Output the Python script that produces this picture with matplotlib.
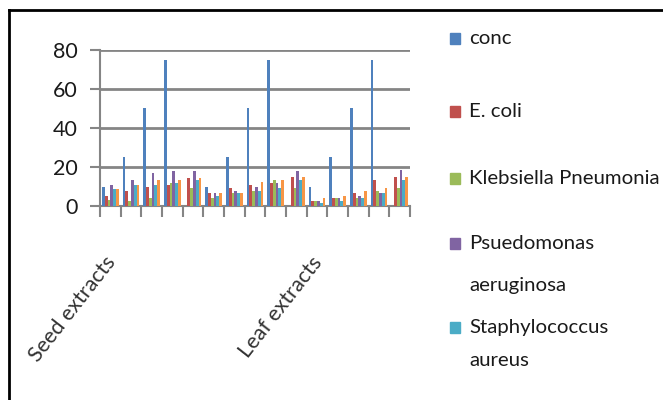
import numpy as np
import matplotlib
matplotlib.use('Agg')
import matplotlib.pyplot as plt
from matplotlib.patches import Rectangle
from matplotlib.lines import Line2D
import matplotlib.transforms as mtransforms

plt.rcParams['font.family'] = ['Lato', 'DejaVu Sans']

# zone of inhibition per extract / concentration
categories = ['Seed extracts', '', '', '', '', '', '', '', '', '',
              'Leaf extracts', '', '', '', '']
conc = [10, 25, 50, 75, 0, 10, 25, 50, 75, 0, 10, 25, 50, 75, 0]
ecoli = [5, 7.5, 10, 11, 14.5, 6.5, 9, 11, 12, 15, 2.5, 4, 6.5, 13.5, 15]
klebsiella = [3, 2.5, 4, 12, 9, 4, 6.5, 7.5, 13.5, 9, 2.5, 4, 4, 7.5, 9]
pseudomonas = [11, 13.5, 17, 18, 18, 6.5, 7.5, 10, 12, 18, 2.5, 4, 5, 6.5, 18.5]
staph = [8.5, 11, 11, 12, 13.5, 5, 6.5, 7.5, 9, 13.5, 1.5, 2.5, 4, 6.5, 13.5]
candida = [8.5, 11, 13.5, 13.5, 14.5, 6.5, 6.5, 12.5, 13.5, 15, 4, 5, 7.5, 9, 15]

series = [conc, ecoli, klebsiella, pseudomonas, staph, candida]
names = ['conc', 'E. coli', 'Klebsiella Pneumonia', 'Psuedomonas\naeruginosa',
         'Staphylococcus\naureus', 'Candida']
colors = ['#4F81BD', '#C0504D', '#9BBB59', '#8064A2', '#4BACC6', '#F79646']

W, H = 663, 400
fig = plt.figure(figsize=(W / 100, H / 100), dpi=100)
ax = fig.add_axes([100 / W, 1 - 206 / H, 310 / W, 156 / H])

n = len(categories)
x = np.arange(n)
bw = 1 / 7.5
for i, (vals, c) in enumerate(zip(series, colors)):
    ax.bar(x + 0.1 + bw * (i + 0.5), vals, width=bw, color=c, align='center',
           linewidth=0, zorder=3)

ax.set_xlim(0, n)
ax.set_ylim(0, 80)
ax.set_yticks([0, 20, 40, 60, 80])
ax.set_yticklabels(['0', '20', '40', '60', '80'], fontsize=15.5, color='#1a1a1a')
ax.set_xticks(np.arange(n + 1))
ax.set_xticklabels([])
ax.tick_params(axis='y', length=7, width=1.5, color='#858585', pad=9)
ax.tick_params(axis='x', length=8, width=1.5, color='#858585')
ax.grid(axis='y', color='#858585', linewidth=2, zorder=0)
for s in ['top', 'right']:
    ax.spines[s].set_visible(False)
for s in ['left', 'bottom']:
    ax.spines[s].set_color('#858585')
    ax.spines[s].set_linewidth(1.5)

# rotated category labels
trans = mtransforms.blended_transform_factory(ax.transData, ax.transAxes)
for i, lab in enumerate(categories):
    if lab:
        ax.text(i + 0.5 - 0.3, -0.30, lab, transform=trans, rotation=52,
                rotation_mode='anchor', ha='right', va='top', fontsize=15.5,
                color='#333333')

# legend, lines placed one by one
leg_y = [38.5, 111, 178, 243, 327]
line_y = [[38.5], [111], [178], [243, 286], [327, 361]]
for name, c, yy, ly in zip(names[:5], colors[:5], leg_y, line_y):
    fig.patches.append(Rectangle((450 / W, 1 - (yy + 5.5) / H), 10 / W, 11 / H,
                                 transform=fig.transFigure, color=c))
    for line, ty in zip(name.split('\n'), ly):
        fig.text(469 / W, 1 - ty / H, line, fontsize=14.7,
                 va='center', ha='left', color='#1a1a1a')

# frame
fig.add_artist(Line2D([9 / W, 9 / W], [1 - 10 / H, 0], transform=fig.transFigure,
                      color='black', linewidth=2))
fig.add_artist(Line2D([9 / W, 662 / W], [1 - 10 / H, 1 - 10 / H],
                      transform=fig.transFigure, color='black', linewidth=2))

fig.savefig('out.png', dpi=100)
